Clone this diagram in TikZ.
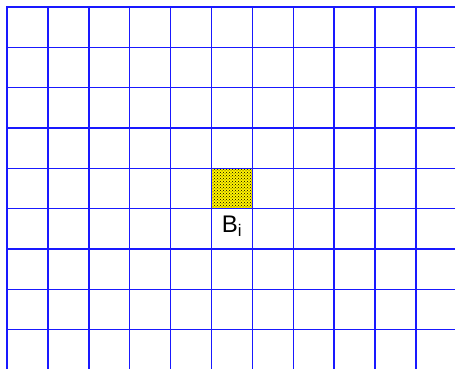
\documentclass[tikz,border=0pt]{standalone}
\usepackage{fontspec}
\setmainfont{Liberation Sans}
\usetikzlibrary{patterns, positioning}

\begin{document}
\begin{tikzpicture}[
    x=1pt, y=-1pt,
    % grid lines
    gridline/.style={
        draw=blue!90,
        line width=1.5pt,
        line cap=rect
    },
    % marked cell
    cellbox/.style={
        rectangle,
        preaction={fill=yellow},
        pattern=crosshatch dots,
        pattern color=black,
        minimum width=40.9pt,
        minimum height=40.33pt,
        inner sep=0pt
    },
    % cell label
    celllabel/.style={
        font=\fontsize{24}{28}\selectfont,
        inner sep=2pt
    }
]

    \useasboundingbox (0,0) rectangle (455,369);
    \clip (0,0) rectangle (455,369);

    % Marked cell and its label
    \node (cell) [cellbox] at (232.05, 188.5) {};
    \node (label) [celllabel, below=5pt of cell] {B\textsubscript{i}};

    % Grid
    \foreach \k in {0,...,10}
        \draw [gridline] (7+40.9*\k, 7) -- (7+40.9*\k, 375);
    \foreach \k in {0,...,9}
        \draw [gridline] (7, 7+40.33*\k) -- (460, 7+40.33*\k);

\end{tikzpicture}
\end{document}
